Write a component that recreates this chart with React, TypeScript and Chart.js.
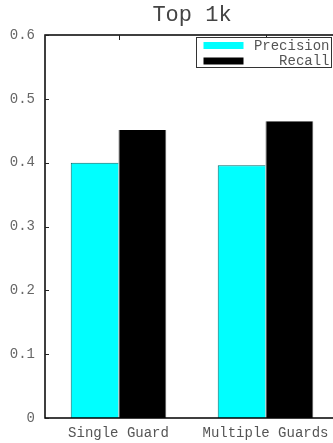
import React, { useEffect, useRef } from "react";
import { Chart, registerables } from "chart.js";

Chart.register(...registerables);

const categories = ["Single Guard", "Multiple Guards"];
const precision = [0.4, 0.396];
const recall = [0.451, 0.465];
const seriesNames = ["Precision", "Recall"];
const seriesColors = ["#00ffff", "#000000"];
const seriesBorders = ["#006b6b", "#555555"];
const yMin = 0;
const yMax = 0.6;
const yStep = 0.1;
const titleText = "Top 1k";

const FONT = "'Liberation Mono', 'DejaVu Sans Mono', monospace";

const framePlugin = {
  id: "frame",
  afterDatasetsDraw(chart: any) {
    const ctx = chart.ctx;
    const { left, top, right, bottom } = chart.chartArea;
    const ys = chart.scales.y;
    const xs = chart.scales.x;
    ctx.save();
    // axes frame
    ctx.strokeStyle = "#000";
    ctx.lineWidth = 1.5;
    ctx.beginPath();
    ctx.moveTo(right, top);
    ctx.lineTo(left, top);
    ctx.lineTo(left, bottom);
    ctx.lineTo(right, bottom);
    ctx.lineTo(right, top);
    ctx.stroke();
    // inward ticks
    ctx.lineWidth = 1;
    ctx.strokeStyle = "#222";
    ctx.beginPath();
    ys.ticks.forEach((t: any) => {
      const y = Math.round(ys.getPixelForValue(t.value)) + 0.5;
      ctx.moveTo(left, y);
      ctx.lineTo(left + 4, y);
      ctx.moveTo(right, y);
      ctx.lineTo(right - 4, y);
    });
    categories.forEach((_c, i) => {
      const x = Math.round(xs.getPixelForValue(i)) + 0.5;
      ctx.moveTo(x, top);
      ctx.lineTo(x, top + 5);
    });
    ctx.stroke();

    // legend
    const bw = 135;
    const bh = 30;
    const bx = Math.round(right - 143) + 0.5;
    const by = Math.round(top + 2) + 0.5;
    ctx.fillStyle = "#fff";
    ctx.fillRect(bx, by, bw, bh);
    ctx.strokeStyle = "#333";
    ctx.lineWidth = 1;
    ctx.strokeRect(bx, by, bw, bh);
    ctx.font = "14px " + FONT;
    ctx.textAlign = "right";
    ctx.textBaseline = "middle";
    seriesNames.forEach((name, i) => {
      const sy = by + 4.5 + i * 15.5;
      ctx.fillStyle = seriesColors[i];
      ctx.fillRect(bx + 7, sy, 40, 7);
      ctx.fillStyle = "#555";
      ctx.fillText(name, bx + bw - 2, sy + 4);
    });

    // title
    ctx.font = "22px " + FONT;
    ctx.textAlign = "center";
    ctx.textBaseline = "alphabetic";
    ctx.fillStyle = "#444";
    ctx.fillText(titleText, (left + right) / 2, 21);
    ctx.restore();
  },
};

export default function App() {
  const ref = useRef<HTMLCanvasElement | null>(null);
  useEffect(() => {
    if (!ref.current) return;
    const chart = new Chart(ref.current, {
      type: "bar",
      data: {
        labels: categories,
        datasets: [
          {
            label: seriesNames[0],
            data: precision,
            backgroundColor: seriesColors[0],
            borderColor: seriesBorders[0],
            borderWidth: { left: 1, top: 1, right: 0, bottom: 0 },
          },
          {
            label: seriesNames[1],
            data: recall,
            backgroundColor: seriesColors[1],
            borderColor: seriesBorders[1],
            borderWidth: { left: 1, top: 0, right: 1, bottom: 0 },
          },
        ],
      },
      options: {
        responsive: false,
        animation: false,
        events: [],
        layout: { padding: { top: 35, left: 0, right: 0, bottom: 0 } },
        datasets: { bar: { barPercentage: 1, categoryPercentage: 0.65 } },
        plugins: {
          legend: { display: false },
          title: { display: false },
          tooltip: { enabled: false },
        },
        scales: {
          x: {
            type: "category",
            offset: true,
            grid: { display: false, drawTicks: false },
            border: { display: false },
            ticks: {
              color: "#555",
              padding: 7,
              font: { family: FONT, size: 14 },
              maxRotation: 0,
              autoSkip: false,
            },
            afterFit: (s: any) => {
              s.height = 25;
            },
          },
          y: {
            min: yMin,
            max: yMax,
            grid: { display: false, drawTicks: false },
            border: { display: false },
            ticks: {
              stepSize: yStep,
              color: "#666",
              padding: 10,
              font: { family: FONT, size: 14 },
              callback: (v: any) => (Number(v) === 0 ? "0" : Number(v).toFixed(1)),
            },
            afterFit: (s: any) => {
              s.width = 45;
            },
          },
        },
      },
      plugins: [framePlugin],
    });
    return () => chart.destroy();
  }, []);
  return (
    <div
      style={{
        position: "fixed",
        left: 0,
        top: 0,
        width: 333,
        height: 443,
        overflow: "hidden",
        background: "#fff",
      }}
    >
      <canvas ref={ref} width={339} height={443} style={{ display: "block", width: 339, height: 443 }} />
    </div>
  );
}
